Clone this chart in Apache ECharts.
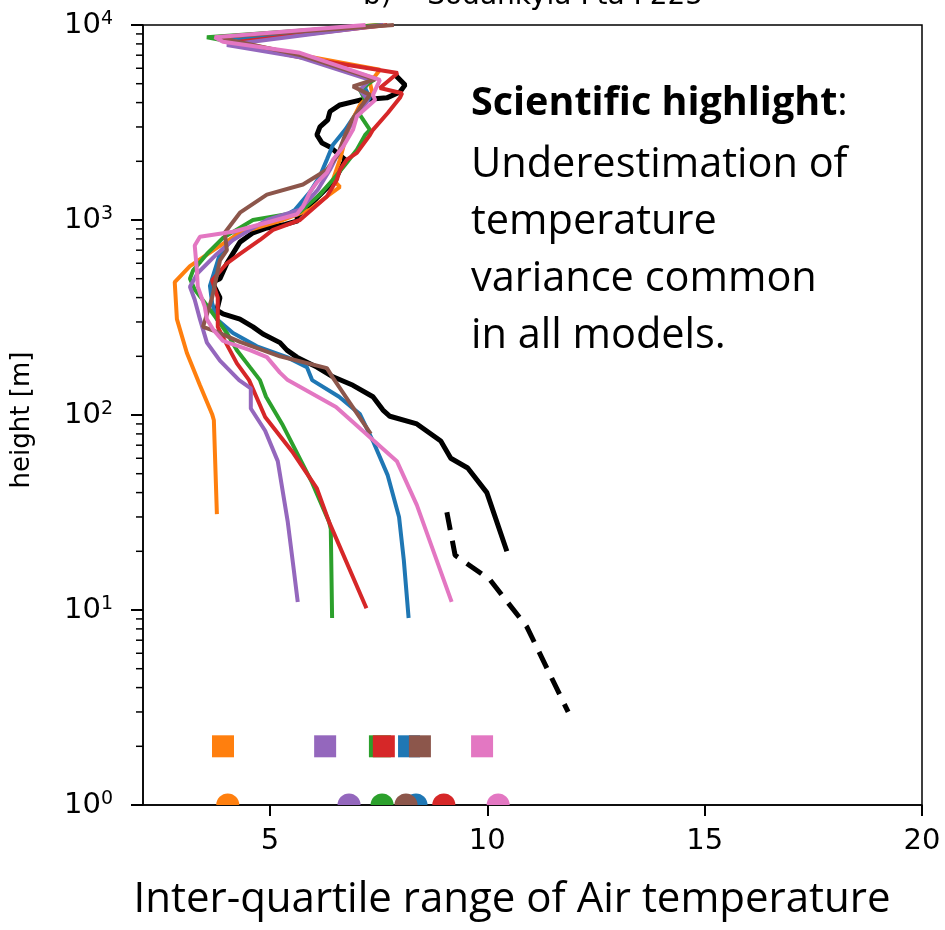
<!DOCTYPE html>
<html>
<head>
<meta charset="utf-8">
<script src="https://cdn.jsdelivr.net/npm/echarts@6/dist/echarts.min.js"></script>
<style>
  html, body { margin: 0; padding: 0; background: #fff; }
  #main { width: 945px; height: 930px; }
</style>
</head>
<body>
<div id="main"></div>
<script>
// profiles: [IQR (K), height (m)]
var blueProfile = [[7.6,10000],[3.85,8380],[5.69,6900],[7.30,5350],[7.19,4750],[7.30,4230],[6.96,3460],[6.73,2900],[6.45,2430],[6.31,2040],[6.15,1680],[5.92,1390],[5.58,1130],[5.12,980],[4.31,890],[3.85,670],[3.62,460],[3.67,375],[3.78,310],[4.15,263],[4.70,225],[5.39,198],[5.85,176],[5.97,151],[6.59,124],[7.07,101],[7.37,73.5],[7.71,49],[7.97,30],[8.08,18],[8.19,9.1]];
var orangeProfile = [[7.5,10000],[3.73,8660],[5.69,7020],[7.53,5890],[7.30,5050],[7.35,4530],[7.07,3890],[6.84,3070],[6.73,2570],[6.61,2040],[6.45,1610],[6.61,1480],[6.31,1320],[5.92,1130],[5.30,1000],[4.31,860],[3.78,720],[3.16,580],[2.81,480],[2.86,310],[3.09,208],[3.39,142],[3.67,101],[3.71,94],[3.78,31]];
var greenProfile = [[7.55,10000],[3.55,8660],[5.69,7020],[7.42,5300],[7.07,4650],[7.19,4120],[7.07,3460],[7.30,2900],[7.19,2730],[7.00,2290],[6.73,1920],[6.45,1610],[6.15,1350],[5.69,1100],[4.61,1000],[3.92,810],[3.55,670],[3.23,550],[3.16,500],[3.27,440],[3.55,365],[3.78,310],[4.01,263],[4.24,215],[4.54,176],[4.77,151],[4.91,124],[5.28,90],[5.97,45],[6.36,28.3],[6.40,26],[6.43,9.1]];
var redProfile = [[7.7,10000],[4.08,8100],[5.69,6830],[7.94,5670],[7.53,4750],[8.04,4470],[7.99,4230],[7.71,3540],[7.37,2900],[7.30,2730],[7.00,2210],[6.77,2040],[6.61,1810],[6.54,1610],[6.31,1320],[5.69,1000],[5.07,890],[4.77,790],[4.31,670],[4.01,600],[3.67,490],[3.80,400],[3.80,283],[3.92,250],[4.24,184],[4.52,151],[4.89,97.6],[5.51,65],[6.08,42],[6.36,28.3],[7.22,10.2]];
var purpleProfile = [[7.6,10000],[4.01,7900],[5.69,6830],[7.30,5230],[7.07,4650],[7.25,4120],[7.02,3460],[6.79,2900],[6.61,2290],[6.38,1810],[6.10,1430],[5.69,1130],[4.93,1000],[4.54,890],[4.15,790],[3.78,670],[3.34,535],[3.16,455],[3.27,390],[3.39,310],[3.55,235],[3.85,190],[4.29,151],[4.56,137],[4.56,108],[4.89,83],[5.18,58],[5.41,28.3],[5.55,16],[5.64,11]];
var brownProfile = [[7.85,10000],[3.78,8660],[5.69,7020],[7.42,5270],[6.91,4840],[7.30,4380],[7.12,3890],[6.89,3260],[6.73,2730],[6.56,2160],[6.31,1810],[5.76,1520],[4.93,1350],[4.31,1090],[3.96,860],[4.01,700],[3.85,620],[3.67,400],[3.46,283],[3.78,267],[4.31,237],[5.23,200],[6.31,174],[6.45,155],[7.32,80]];
var pinkProfile = [[7.2,10000],[3.73,8660],[3.92,8200],[5.69,7200],[7.53,5230],[7.37,4380],[7.42,4120],[7.00,3400],[6.91,2900],[6.68,2370],[6.45,2040],[6.31,1750],[6.08,1560],[5.92,1390],[5.76,1170],[5.62,1070],[5.0,980],[4.15,870],[3.39,820],[3.27,740],[3.32,550],[3.34,455],[3.50,360],[3.55,310],[3.69,275],[3.92,240],[4.54,215],[4.93,198],[5.23,165],[5.41,151],[6.52,110],[7.92,58],[8.38,34.5],[9.18,11]];
var obsProfile = [[7.88,5550],[8.11,4930],[7.99,4530],[7.69,4230],[7.07,4120],[6.61,3890],[6.38,3600],[6.33,3260],[6.15,3000],[6.08,2730],[6.20,2480],[6.38,2370],[6.73,2040],[6.50,1610],[6.04,1270],[5.62,1040],[5.64,990],[5.35,950],[4.93,910],[4.61,860],[4.31,770],[4.01,600],[3.85,500],[3.67,480],[3.85,400],[3.78,345],[3.92,330],[4.31,310],[4.61,283],[4.84,260],[5.23,235],[5.39,215],[5.62,198],[6.08,176],[6.45,157],[6.91,142],[7.37,124],[7.60,106],[7.76,98.5],[8.38,90],[8.93,73.5],[9.16,60],[9.55,53.5],[9.99,40],[10.45,20]];
var obsSurface = [[9.07,31.7],[9.26,19.1],[10.06,14.3],[10.91,8.2],[11.86,3.0]];

// order: blue, orange, green, red, purple, brown, pink
var modelColors = ['#1f77b4', '#ff7f0e', '#2ca02c', '#d62728', '#9467bd', '#8c564b', '#e377c2'];
var squareX = [8.20, 3.92, 7.53, 7.62, 6.27, 8.45, 9.88];
var circleX = [8.36, 4.03, 7.58, 9.00, 6.82, 8.13, 10.25];
var squareY = 2;
var circleY = 1;

var xTicks = [5, 10, 15, 20];
var X_MIN = 2.08, X_MAX = 20;
var minorTicks = [];
for (var d = 1; d < 10000; d *= 10) {
  for (var k = 2; k <= 9; k++) minorTicks.push(k * d);
}

var profiles = [blueProfile, orangeProfile, greenProfile, redProfile, purpleProfile, brownProfile, pinkProfile];

var series = [];
series.push({
  type: 'line', data: obsProfile, symbol: 'none', z: 1,
  lineStyle: { color: '#000', width: 5 }
});
series.push({
  type: 'line', data: obsSurface, symbol: 'none', z: 1,
  lineStyle: { color: '#000', width: 5, type: [18, 11] }
});
profiles.forEach(function (p, i) {
  series.push({
    type: 'line', data: p, symbol: 'none', z: 2,
    lineStyle: { color: modelColors[i], width: 4 }
  });
});
series.push({
  type: 'scatter', clip: false, z: 3,
  symbol: 'rect', symbolSize: 22,
  data: squareX.map(function (x, i) {
    return { value: [x, squareY], itemStyle: { color: modelColors[i], opacity: 1 } };
  })
});
series.push({
  type: 'scatter', clip: false, z: 3,
  symbol: 'path://M0,10 A10,10 0 0 1 20,10 Z',
  symbolSize: [23, 11.5], symbolOffset: [0, '-50%'],
  data: circleX.map(function (x, i) {
    return { value: [x, circleY], itemStyle: { color: modelColors[i], opacity: 1 } };
  })
});
// minor log ticks on the height axis
series.push({
  type: 'custom', silent: true, z: 10,
  data: minorTicks.map(function (v) { return [X_MIN, v]; }),
  renderItem: function (params, api) {
    var p = api.coord([api.value(0), api.value(1)]);
    return {
      type: 'line',
      shape: { x1: p[0] - 7, y1: p[1], x2: p[0], y2: p[1] },
      style: { stroke: '#000', lineWidth: 1.5 }
    };
  }
});

var myChart = echarts.init(document.getElementById('main'));
myChart.setOption({
  animation: false,
  backgroundColor: '#fff',
  grid: { left: 143, top: 25, right: 23, bottom: 125, show: true, borderColor: '#000', borderWidth: 1.5 },
  xAxis: {
    type: 'value', min: X_MIN, max: X_MAX,
    axisLine: { lineStyle: { color: '#000', width: 1.5 } },
    axisTick: { customValues: xTicks, length: 11, lineStyle: { color: '#000', width: 2 } },
    axisLabel: { customValues: xTicks, margin: 22, color: '#000', fontSize: 29, fontFamily: 'DejaVu Sans' },
    splitLine: { show: false }
  },
  yAxis: {
    type: 'log', logBase: 10, min: 1, max: 10000,
    axisLine: { lineStyle: { color: '#000', width: 1.5 } },
    axisTick: { length: 12, lineStyle: { color: '#000', width: 2 } },
    axisLabel: {
      margin: 30, color: '#000',
      formatter: function (v) {
        return '{b|10}{s|' + Math.round(Math.log10(v)) + '}';
      },
      rich: {
        b: { fontSize: 29, fontFamily: 'DejaVu Sans', color: '#000', lineHeight: 30 },
        s: { fontSize: 19, fontFamily: 'DejaVu Sans', color: '#000', lineHeight: 20, verticalAlign: 'top' }
      }
    },
    splitLine: { show: false }
  },
  graphic: [
    {
      type: 'text', x: 533, y: -17,
      style: { text: 'b)    Sodankylä Fta F225', fontSize: 28, fontFamily: 'DejaVu Sans', fill: '#000', align: 'center', verticalAlign: 'top' }
    },
    {
      type: 'text', x: 22, y: 420, rotation: Math.PI / 2,
      style: { text: 'height [m]', fontSize: 26, fontFamily: 'DejaVu Sans', fill: '#000', align: 'center', verticalAlign: 'middle' }
    },
    {
      type: 'text', x: 512, y: 900,
      style: { text: 'Inter-quartile range of Air temperature', fontSize: 42, fontFamily: 'Open Sans', fill: '#000', align: 'center', verticalAlign: 'middle' }
    },
    {
      type: 'text', x: 471, y: 104,
      style: {
        text: '{b|Scientific highlight}{n|:}', verticalAlign: 'middle',
        rich: {
          b: { fontWeight: 'bold', fontSize: 39.5, fontFamily: 'Open Sans', fill: '#000' },
          n: { fontSize: 39.5, fontFamily: 'Open Sans', fill: '#000' }
        }
      }
    },
    {
      type: 'text', x: 471, y: 137,
      style: {
        text: 'Underestimation of\ntemperature\nvariance common\nin all models.',
        fontSize: 41.5, fontFamily: 'Open Sans', fill: '#000', lineHeight: 57, verticalAlign: 'top'
      }
    }
  ],
  series: series
});
</script>
</body>
</html>
